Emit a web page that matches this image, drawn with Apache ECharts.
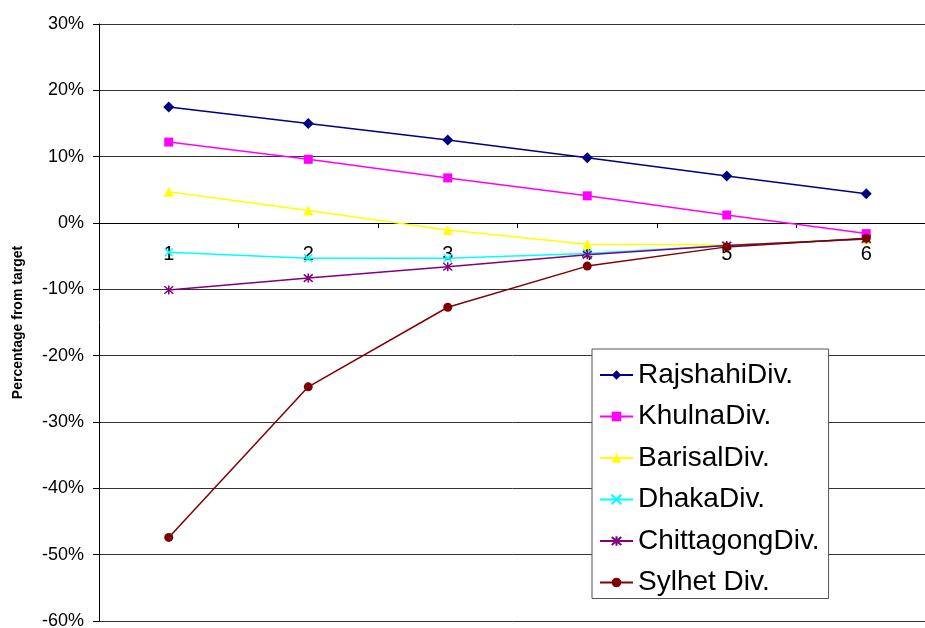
<!DOCTYPE html>
<html>
<head>
<meta charset="utf-8">
<script src="https://cdn.jsdelivr.net/npm/echarts@6/dist/echarts.min.js"></script>
<style>
html,body{margin:0;padding:0;background:#fff;}
#chart{width:925px;height:628px;}
</style>
</head>
<body>
<div id="chart"></div>
<script>
const categories = ['1', '2', '3', '4', '5', '6'];
const rajshahi = [17.5, 15.0, 12.5, 9.85, 7.1, 4.4];
const khulna = [12.2, 9.6, 6.8, 4.1, 1.2, -1.6];
const barisal = [4.7, 1.9, -1.05, -3.2, -3.3, -2.4];
const dhaka = [-4.4, -5.3, -5.3, -4.6, -3.4, -2.4];
const chittagong = [-10.1, -8.3, -6.6, -4.8, -3.4, -2.4];
const sylhet = [-47.4, -24.7, -12.7, -6.5, -3.6, -2.3];
const yTicks = { min: -60, max: 30, step: 10 };

const FONT = 'Liberation Sans, Arial, sans-serif';
const chart = echarts.init(document.getElementById('chart'), null, { renderer: 'canvas' });

function mk(name, data, color, symbol, size, stroke) {
  return {
    name: name,
    type: 'line',
    data: data,
    symbol: symbol,
    symbolSize: size,
    showSymbol: true,
    lineStyle: { color: color, width: 1.5 },
    itemStyle: stroke ? { color: color, borderColor: color, borderWidth: 1.5 } : { color: color, borderWidth: 0 },
    emphasis: { disabled: true },
    animation: false
  };
}

const crossPath = 'path://M0,0L10,10M10,0L0,10';
const starPath = 'path://M0,0L10,10M10,0L0,10M5,-1L5,11';

chart.setOption({
  backgroundColor: '#fff',
  animation: false,
  textStyle: { fontFamily: FONT },
  grid: { left: 99, top: 24, width: 837, height: 597, containLabel: false, outerBoundsMode: 'none' },
  xAxis: {
    type: 'category',
    data: categories,
    boundaryGap: true,
    axisLine: { onZero: true, lineStyle: { color: '#000', width: 1 } },
    axisTick: { show: true, inside: false, length: 5, lineStyle: { color: '#000' } },
    axisLabel: { fontSize: 20, color: '#000', margin: -377, fontFamily: FONT },
    splitLine: { show: false },
    z: 1
  },
  yAxis: {
    type: 'value',
    min: yTicks.min,
    max: yTicks.max,
    interval: yTicks.step,
    name: 'Percentage from target',
    nameLocation: 'middle',
    nameGap: 74,
    nameRotate: 90,
    nameTextStyle: { fontSize: 14, fontWeight: 'bold', color: '#000', fontFamily: FONT },
    axisLine: { show: true, lineStyle: { color: '#000', width: 1 } },
    axisTick: { show: true, length: 6, lineStyle: { color: '#000' } },
    axisLabel: { fontSize: 18, color: '#000', margin: 15, formatter: '{value}%', fontFamily: FONT },
    splitLine: { show: true, lineStyle: { color: '#333', width: 1 } }
  },
  legend: {
    orient: 'vertical',
    left: 592,
    top: 349,
    padding: [10, 9, 0, 7],
    itemGap: 9.5,
    itemWidth: 33,
    itemHeight: 12,
    backgroundColor: '#fff',
    borderColor: '#555',
    borderWidth: 1,
    textStyle: { fontSize: 28, lineHeight: 32, color: '#000', fontFamily: FONT },
    data: ['RajshahiDiv.', 'KhulnaDiv.', 'BarisalDiv.', 'DhakaDiv.', 'ChittagongDiv.', 'Sylhet Div.']
  },
  series: [
    mk('RajshahiDiv.', rajshahi, '#000080', 'diamond', 11, false),
    mk('KhulnaDiv.', khulna, '#FF00FF', 'rect', 9, false),
    mk('BarisalDiv.', barisal, '#FFFF00', 'triangle', 10, false),
    mk('DhakaDiv.', dhaka, '#00FFFF', crossPath, 8, true),
    mk('ChittagongDiv.', chittagong, '#800080', starPath, 9, true),
    mk('Sylhet Div.', sylhet, '#800000', 'circle', 9, false)
  ]
});
</script>
</body>
</html>
